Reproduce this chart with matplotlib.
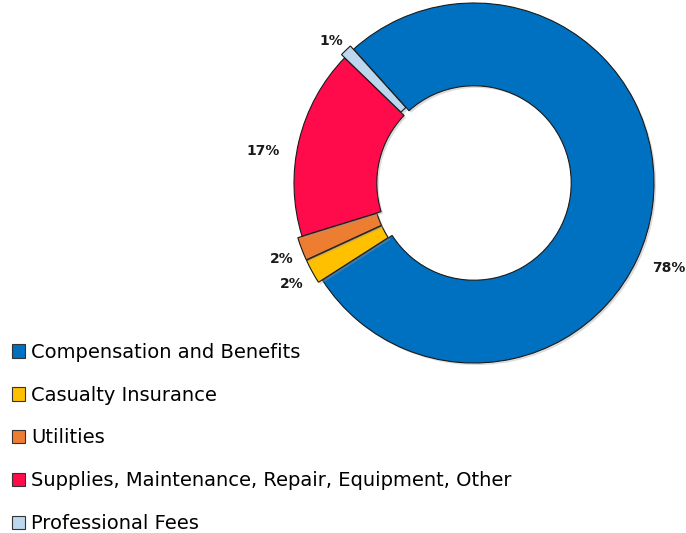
import matplotlib; matplotlib.use("Agg")
import matplotlib.pyplot as plt
import matplotlib.patheffects as pe

categories = ["Compensation and Benefits", "Casualty Insurance", "Utilities",
              "Supplies, Maintenance, Repair, Equipment, Other", "Professional Fees"]
values = [77.6, 2.2, 2.1, 17.0, 1.1]
colors = ["#0070C0", "#FFC000", "#ED7D31", "#FF0B4C", "#BDD7EE"]
explode = [0.0, 0.025, 0.025, 0.0, 0.025]
# label anchor points (data units, ring radius = 1)
label_xy = [(1.08, -0.47), (-1.01, -0.56), (-1.07, -0.42), (-1.17, 0.18), (-0.79, 0.79)]

plt.rcParams["font.family"] = ["DejaVu Sans"]
fig = plt.figure(figsize=(6.86, 5.33), dpi=100)
cx, cy, R = 474, 183, 180
half = 190
ax = fig.add_axes([(cx - half) / 686, (533 - cy - half) / 533, 2 * half / 686, 2 * half / 533])
wedges, _ = ax.pie(values, colors=colors, startangle=132, counterclock=False, explode=explode,
                   radius=1.0, wedgeprops=dict(width=0.46, edgecolor="#1a1a1a", linewidth=0.8))
for w in wedges:
    w.set_path_effects([pe.SimplePatchShadow(offset=(1.5, -1.5), shadow_rgbFace="#999999", alpha=0.35), pe.Normal()])
lim = half / R
ax.set_xlim(-lim, lim); ax.set_ylim(-lim, lim); ax.set_aspect("equal"); ax.axis("off")

for v, (x, y) in zip(values, label_xy):
    ax.text(x, y, f"{v:.0f}%", ha="center", va="center", fontsize=10, fontweight="bold", color="#1a1a1a")

handles = [plt.Rectangle((0, 0), 1, 1, facecolor=c, edgecolor="#333333", linewidth=0.8) for c in colors]
fig.legend(handles, categories, loc="upper left", bbox_to_anchor=(0.0, 0.379), frameon=False,
           fontsize=14, handlelength=0.7, handleheight=0.7, handletextpad=0.3,
           labelspacing=1.23, borderaxespad=0.3, borderpad=0.3)

fig.savefig("out.png", dpi=100)
